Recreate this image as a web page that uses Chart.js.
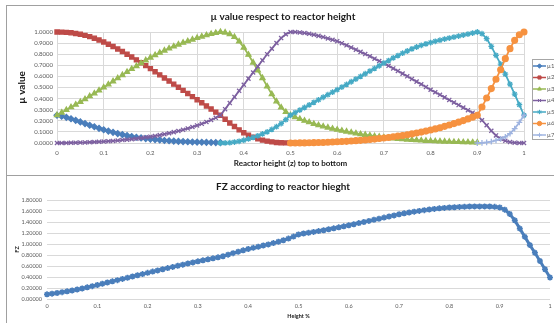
<!DOCTYPE html>
<html>
<head>
<meta charset="utf-8">
<script src="https://cdn.jsdelivr.net/npm/chart.js@4.4.0/dist/chart.umd.min.js"></script>
<style>
  html, body { margin: 0; padding: 0; background: #fff; overflow: hidden; width: 554px; height: 323px; }
  .panel { position: absolute; left: 6px; width: 554px; border: 1px solid #a0a0a0; border-bottom: none; box-sizing: border-box; }
  #topPanel { top: 5px; height: 171px; }
  #bottomPanel { top: 175px; height: 160px; background: #fff; }
  canvas { display: block; }
</style>
</head>
<body>
<div class="panel" id="topPanel"><canvas id="muChart" width="552" height="169"></canvas></div>
<div class="panel" id="bottomPanel"><canvas id="fzChart" width="552" height="152"></canvas></div>
<script>
// reactor height z, top to bottom
const zValues = [
  0, 0.01, 0.02, 0.03, 0.04, 0.05, 0.06, 0.07, 0.08, 0.09,
  0.1, 0.11, 0.12, 0.13, 0.14, 0.15, 0.16, 0.17, 0.18, 0.19,
  0.2, 0.21, 0.22, 0.23, 0.24, 0.25, 0.26, 0.27, 0.28, 0.29,
  0.3, 0.31, 0.32, 0.33, 0.34, 0.35, 0.36, 0.37, 0.38, 0.39,
  0.4, 0.41, 0.42, 0.43, 0.44, 0.45, 0.46, 0.47, 0.48, 0.49,
  0.5, 0.51, 0.52, 0.53, 0.54, 0.55, 0.56, 0.57, 0.58, 0.59,
  0.6, 0.61, 0.62, 0.63, 0.64, 0.65, 0.66, 0.67, 0.68, 0.69,
  0.7, 0.71, 0.72, 0.73, 0.74, 0.75, 0.76, 0.77, 0.78, 0.79,
  0.8, 0.81, 0.82, 0.83, 0.84, 0.85, 0.86, 0.87, 0.88, 0.89,
  0.9, 0.91, 0.92, 0.93, 0.94, 0.95, 0.96, 0.97, 0.98, 0.99, 1
];

const muLabels = ["µ1", "µ2", "µ3", "µ4", "µ5", "µ6", "µ7"];

// index into zValues where each series starts
const muStarts = [0, 0, 0, 0, 35, 50, 90];

// z 0 .. 0.35
const mu1 = [
  0.250, 0.241, 0.231, 0.218, 0.204, 0.190, 0.175, 0.160, 0.146, 0.132,
  0.119, 0.107, 0.096, 0.085, 0.076, 0.067, 0.059, 0.052, 0.046, 0.040,
  0.035, 0.031, 0.027, 0.023, 0.020, 0.017, 0.015, 0.013, 0.011, 0.009,
  0.008, 0.007, 0.006, 0.005, 0.004, 0.003
];
// z 0 .. 0.50
const mu2 = [
  1.000, 0.999, 0.997, 0.993, 0.987, 0.980, 0.970, 0.958, 0.944, 0.928,
  0.910, 0.890, 0.869, 0.847, 0.824, 0.800, 0.775, 0.749, 0.723, 0.697,
  0.670, 0.642, 0.614, 0.586, 0.558, 0.530, 0.502, 0.474, 0.446, 0.418,
  0.390, 0.362, 0.334, 0.306, 0.278, 0.250, 0.214, 0.180, 0.148, 0.118,
  0.092, 0.070, 0.052, 0.037, 0.026, 0.017, 0.010, 0.005, 0.002, 0.001,
  0.000
];
// z 0 .. 0.90
const mu3 = [
  0.250, 0.274, 0.298, 0.322, 0.346, 0.370, 0.395, 0.421, 0.447, 0.473,
  0.500, 0.528, 0.556, 0.584, 0.612, 0.640, 0.667, 0.693, 0.719, 0.745,
  0.770, 0.792, 0.813, 0.833, 0.852, 0.870, 0.887, 0.903, 0.918, 0.932,
  0.946, 0.959, 0.971, 0.982, 0.992, 1.000, 0.995, 0.980, 0.955, 0.915,
  0.860, 0.795, 0.725, 0.655, 0.585, 0.510, 0.440, 0.375, 0.320, 0.280,
  0.250, 0.232, 0.216, 0.201, 0.187, 0.172, 0.161, 0.150, 0.139, 0.129,
  0.120, 0.111, 0.103, 0.095, 0.087, 0.080, 0.074, 0.068, 0.062, 0.056,
  0.050, 0.046, 0.042, 0.038, 0.034, 0.030, 0.028, 0.025, 0.023, 0.020,
  0.018, 0.016, 0.015, 0.013, 0.012, 0.010, 0.009, 0.008, 0.007, 0.006,
  0.005
];
// z 0 .. 1
const mu4 = [
  0.000, 0.000, 0.001, 0.002, 0.003, 0.004, 0.005, 0.007, 0.009, 0.011,
  0.013, 0.016, 0.019, 0.022, 0.026, 0.030, 0.034, 0.039, 0.045, 0.051,
  0.057, 0.064, 0.071, 0.079, 0.088, 0.098, 0.108, 0.119, 0.131, 0.144,
  0.158, 0.173, 0.189, 0.207, 0.227, 0.250, 0.305, 0.360, 0.415, 0.470,
  0.525, 0.580, 0.635, 0.690, 0.745, 0.800, 0.850, 0.900, 0.945, 0.980,
  1.000, 0.999, 0.996, 0.991, 0.984, 0.975, 0.965, 0.954, 0.942, 0.930,
  0.917, 0.899, 0.880, 0.861, 0.841, 0.821, 0.801, 0.781, 0.760, 0.739,
  0.718, 0.695, 0.672, 0.649, 0.625, 0.601, 0.577, 0.553, 0.529, 0.504,
  0.480, 0.457, 0.434, 0.411, 0.388, 0.365, 0.342, 0.319, 0.296, 0.273,
  0.250, 0.205, 0.160, 0.110, 0.068, 0.038, 0.020, 0.008, 0.003, 0.001,
  0.000
];
// z 0.35 .. 1
const mu5 = [
  0.000, 0.001, 0.003, 0.008, 0.015,
  0.025, 0.037, 0.050, 0.065, 0.082, 0.100, 0.122, 0.147, 0.175, 0.210,
  0.250, 0.274, 0.297, 0.320, 0.343, 0.366, 0.389, 0.412, 0.435, 0.458,
  0.480, 0.504, 0.528, 0.552, 0.576, 0.600, 0.624, 0.648, 0.672, 0.696,
  0.720, 0.743, 0.766, 0.788, 0.809, 0.829, 0.848, 0.865, 0.880, 0.893,
  0.905, 0.916, 0.926, 0.936, 0.945, 0.954, 0.963, 0.972, 0.981, 0.990,
  1.000, 0.985, 0.940, 0.870, 0.790, 0.710, 0.620, 0.530, 0.440, 0.345,
  0.250
];
// z 0.50 .. 1
const mu6 = [
  0.000, 0.000, 0.001, 0.001, 0.002, 0.003, 0.004, 0.005, 0.007, 0.009,
  0.011, 0.013, 0.015, 0.018, 0.021, 0.024, 0.027, 0.031, 0.035, 0.040,
  0.045, 0.050, 0.056, 0.062, 0.068, 0.075, 0.082, 0.090, 0.098, 0.107,
  0.117, 0.127, 0.138, 0.150, 0.162, 0.175, 0.188, 0.202, 0.217, 0.233,
  0.250, 0.325, 0.405, 0.490, 0.575, 0.660, 0.760, 0.850, 0.925, 0.975,
  1.000
];
// z 0.90 .. 1
const mu7 = [0.000, 0.002, 0.006, 0.013, 0.023, 0.037, 0.055, 0.085, 0.130, 0.185, 0.250];

const fzValues = [
  0.085, 0.097, 0.110, 0.124, 0.139, 0.155, 0.173, 0.192, 0.212, 0.233,
  0.255, 0.277, 0.299, 0.321, 0.343, 0.365, 0.387, 0.409, 0.431, 0.453,
  0.476, 0.498, 0.520, 0.541, 0.562, 0.583, 0.604, 0.625, 0.645, 0.665,
  0.685, 0.703, 0.721, 0.739, 0.757, 0.777, 0.806, 0.834, 0.860, 0.885,
  0.908, 0.930, 0.951, 0.972, 0.993, 1.016, 1.041, 1.068, 1.098, 1.135,
  1.175, 1.190, 1.205, 1.220, 1.235, 1.251, 1.268, 1.285, 1.303, 1.321,
  1.340, 1.360, 1.380, 1.400, 1.420, 1.440, 1.460, 1.480, 1.500, 1.520,
  1.540, 1.557, 1.573, 1.588, 1.602, 1.615, 1.627, 1.638, 1.648, 1.656,
  1.663, 1.669, 1.674, 1.678, 1.681, 1.683, 1.684, 1.683, 1.681, 1.676,
  1.665, 1.625, 1.545, 1.430, 1.280, 1.130, 0.980, 0.840, 0.690, 0.540,
  0.390
];

const muSeries = [mu1, mu2, mu3, mu4, mu5, mu6, mu7];
const muColors = ["#4a7ebb", "#be4b48", "#98b954", "#7d60a0", "#46aac5", "#f69240", "#9fb4e0"];
const muMarkers = ["rectRot", "rect", "triangle", "crossRot", "star", "circle", "cross"];

const FONT = "Lato";
const tickColor = "#595959";
const gridColor = "#d9d9d9";

function toPoints(values, start) {
  return values.map((v, i) => ({ x: zValues[start + i], y: v }));
}

// keep the title centred on the whole canvas, not on the padded area
const fullWidthTitle = {
  id: "fullWidthTitle",
  afterLayout(chart) {
    const t = chart.titleBlock;
    if (t) {
      t.left = 0;
      t.right = chart.width;
      t.width = chart.width;
    }
  },
};

// Excel style legend: line with marker, boxed, to the right of the plot
const seriesLegend = {
  id: "seriesLegend",
  afterDraw(chart) {
    const ctx = chart.ctx;
    const area = chart.chartArea;
    const left = area.right + 8;
    const top = area.top + 27;
    ctx.save();
    ctx.strokeStyle = "#a6a6a6";
    ctx.lineWidth = 1;
    ctx.strokeRect(Math.round(left) + 0.5, Math.round(top) + 0.5, chart.width, 80);
    chart.data.datasets.forEach((ds, i) => {
      const y = top + 7 + i * 11.5;
      ctx.strokeStyle = ds.borderColor;
      ctx.lineWidth = 1.5;
      ctx.beginPath();
      ctx.moveTo(left + 1, y);
      ctx.lineTo(left + 14, y);
      ctx.stroke();
      ctx.fillStyle = ds.backgroundColor;
      ctx.lineWidth = 1;
      Chart.helpers.drawPoint(ctx, { pointStyle: ds.pointStyle, radius: 2.2, rotation: 0, borderWidth: 1 }, left + 7.5, y);
      ctx.fillStyle = tickColor;
      ctx.font = "6px " + FONT;
      ctx.textBaseline = "middle";
      ctx.fillText(ds.label, left + 15, y);
    });
    ctx.restore();
  },
};

// Top chart: membership values against reactor height
new Chart(document.getElementById("muChart"), {
  type: "line",
  data: {
    datasets: muSeries.map((values, i) => ({
      label: muLabels[i],
      data: toPoints(values, muStarts[i]),
      borderColor: muColors[i],
      backgroundColor: muColors[i],
      borderWidth: 1.8,
      pointStyle: muMarkers[i],
      pointRadius: 2.9,
      pointBorderWidth: 1.3,
      order: muSeries.length - i,
      clip: 6,
    })),
  },
  options: {
    responsive: false,
    animation: false,
    layout: { padding: { left: 0, right: 35, top: 0, bottom: 0 } },
    plugins: {
      legend: { display: false },
      tooltip: { enabled: false },
      title: {
        display: true,
        text: "µ value respect to reactor height",
        color: "#1a1a1a",
        font: { family: FONT, size: 10, weight: "bold" },
        padding: { top: 5, bottom: 9 },
      },
    },
    scales: {
      x: {
        type: "linear",
        min: 0,
        max: 1,
        afterFit: (s) => { s.height = 32; },
        grid: { color: gridColor, drawTicks: false },
        border: { color: gridColor },
        ticks: {
          stepSize: 0.1,
          padding: 6,
          color: tickColor,
          font: { family: FONT, size: 6 },
          callback: (v) => String(+v.toFixed(1)),
        },
        title: {
          display: true,
          text: "Reactor height (z) top to bottom",
          color: "#1a1a1a",
          font: { family: FONT, size: 8, weight: "bold" },
          padding: { top: 0, bottom: 7 },
        },
      },
      y: {
        min: 0,
        max: 1,
        afterFit: (s) => { s.width = 50; },
        grid: { color: gridColor, drawTicks: false },
        border: { color: gridColor },
        ticks: {
          stepSize: 0.1,
          padding: 4,
          color: tickColor,
          font: { family: FONT, size: 6 },
          callback: (v) => v.toFixed(4),
        },
        title: {
          display: true,
          text: "µ value",
          color: "#1a1a1a",
          font: { family: FONT, size: 10, weight: "bold" },
          padding: { top: 9, bottom: 0 },
        },
      },
    },
  },
  plugins: [fullWidthTitle, seriesLegend],
});

// Bottom chart: FZ along the reactor
new Chart(document.getElementById("fzChart"), {
  type: "line",
  data: {
    datasets: [
      {
        label: "FZ",
        data: toPoints(fzValues, 0),
        borderColor: "#4a7ebb",
        backgroundColor: "#4a7ebb",
        borderWidth: 3,
        pointStyle: "star",
        pointRadius: 3,
        pointBorderWidth: 1.6,
        clip: 6,
      },
    ],
  },
  options: {
    responsive: false,
    animation: false,
    layout: { padding: { left: 0, right: 9, top: 0, bottom: 0 } },
    plugins: {
      legend: { display: false },
      tooltip: { enabled: false },
      title: {
        display: true,
        text: "FZ according to reactor hieght",
        color: "#1a1a1a",
        font: { family: FONT, size: 10, weight: "bold" },
        padding: { top: 5, bottom: 7 },
      },
    },
    scales: {
      x: {
        type: "linear",
        min: 0,
        max: 1,
        afterFit: (s) => { s.height = 29; },
        grid: { display: false, drawTicks: false },
        border: { display: false },
        ticks: {
          stepSize: 0.1,
          padding: 4,
          color: tickColor,
          font: { family: FONT, size: 5.5 },
          callback: (v) => String(+v.toFixed(1)),
        },
        title: {
          display: true,
          text: "Height %",
          color: "#1a1a1a",
          font: { family: FONT, size: 5.5, weight: "bold" },
          padding: { top: 0, bottom: 8.7 },
        },
      },
      y: {
        min: 0,
        max: 1.8,
        afterFit: (s) => { s.width = 40; },
        grid: { color: gridColor, drawTicks: false },
        border: { display: false },
        ticks: {
          stepSize: 0.2,
          padding: 5,
          color: tickColor,
          font: { family: FONT, size: 5.5 },
          callback: (v) => v.toFixed(5),
        },
        title: {
          display: true,
          text: "FZ",
          color: "#1a1a1a",
          font: { family: FONT, size: 5.5, weight: "bold" },
          padding: { top: 6.7, bottom: 0 },
        },
      },
    },
  },
  plugins: [fullWidthTitle],
});
</script>
</body>
</html>
